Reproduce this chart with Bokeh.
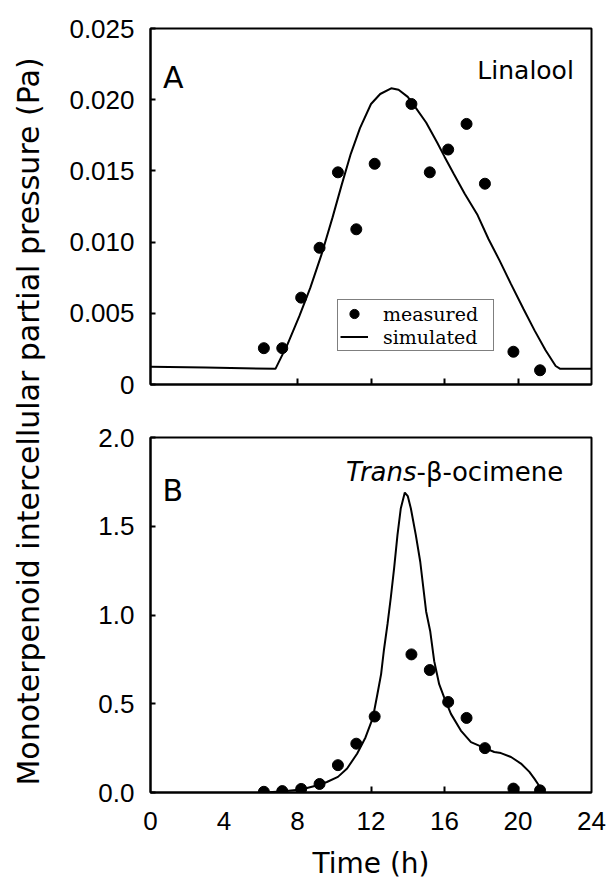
import math
from bokeh.plotting import figure
from bokeh.layouts import row, column
from bokeh.models import (Range1d, FixedTicker, NumeralTickFormatter, Label,
                          Legend, LegendItem)
from bokeh.embed import file_html
from bokeh.resources import INLINE

# ---------------- data ----------------
meas_time = [6.17, 7.17, 8.2, 9.2, 10.2, 11.2, 12.2, 14.2, 15.2, 16.2, 17.2, 18.2, 19.75, 21.2]
linalool_meas = [0.00255, 0.00255, 0.0061, 0.0096, 0.0149, 0.0109, 0.0155, 0.0197,
                 0.0149, 0.0165, 0.0183, 0.0141, 0.0023, 0.0010]
ocimene_meas = [0.004, 0.008, 0.020, 0.048, 0.154, 0.275, 0.428, 0.778,
                0.69, 0.51, 0.42, 0.25, 0.022, 0.012]

linalool_sim_t = [0, 3, 6.8, 7.45, 8.1, 8.7, 9.3, 9.9, 10.4, 10.9, 11.4, 12.0, 12.5,
                  13.1, 13.5, 14.0, 14.4, 15.0, 15.6, 16.0, 16.5, 17.1, 17.8, 18.4,
                  19.0, 19.6, 20.3, 20.9, 21.5, 22.05, 22.3, 24]
linalool_sim_v = [0.00125, 0.0012, 0.0011, 0.0028, 0.0048, 0.0068, 0.0091, 0.0117,
                  0.0140, 0.0162, 0.0180, 0.0197, 0.0204, 0.0208, 0.0207, 0.0202,
                  0.0195, 0.0184, 0.0170, 0.0160, 0.0148, 0.0134, 0.0119, 0.0102,
                  0.0087, 0.0071, 0.0053, 0.0038, 0.0024, 0.0013, 0.0011, 0.0011]

ocimene_sim_t = [6.18, 7.1, 8.2, 9.1, 9.6, 10.2, 10.7, 11.25, 11.7, 12.1, 12.35, 12.55,
                 12.7, 12.9, 13.08, 13.26, 13.44, 13.62, 13.84, 14.0, 14.17, 14.44,
                 14.68, 15.0, 15.22, 15.44, 15.71, 15.98, 16.35, 16.89, 17.44, 18.26,
                 18.71, 19.07, 19.62, 20.16, 20.62, 20.89, 21.13, 21.2]
ocimene_sim_v = [0.0, 0.005, 0.017, 0.041, 0.059, 0.088, 0.135, 0.22, 0.31, 0.42,
                 0.555, 0.667, 0.80, 0.95, 1.10, 1.265, 1.45, 1.60, 1.69, 1.67, 1.60,
                 1.45, 1.30, 1.02, 0.91, 0.74, 0.61, 0.536, 0.443, 0.349, 0.284,
                 0.247, 0.228, 0.222, 0.20, 0.163, 0.116, 0.078, 0.041, 0.01]

x_label_ticks = [0, 4, 8, 12, 16, 20, 24]
x_mark_ticks = [8, 12, 16, 20]
top_y_ticks = [0, 0.005, 0.010, 0.015, 0.020, 0.025]
bot_y_ticks = [0, 0.5, 1.0, 1.5, 2.0]

TICK_FONT = "Liberation Sans"
SANS = "DejaVu Sans"


def style_panel(p, yticks, yfmt, show_xlabels):
    p.xgrid.visible = False
    p.ygrid.visible = False
    p.outline_line_color = "black"
    p.outline_line_width = 2
    p.background_fill_color = "white"
    p.border_fill_color = "white"
    xa = p.xaxis[0]
    xa.axis_line_width = 2
    xa.axis_line_color = "black"
    xa.major_tick_in = 0
    xa.major_tick_out = 0
    xa.minor_tick_in = 6
    xa.minor_tick_out = 0
    xa.minor_tick_line_width = 2
    xa.minor_tick_line_color = "black"
    xa.major_label_text_font = TICK_FONT
    xa.major_label_text_color = "black"
    if show_xlabels:
        xa.ticker = FixedTicker(ticks=x_label_ticks, minor_ticks=x_mark_ticks)
        xa.major_label_text_font_size = "26px"
        xa.major_label_standoff = 19
        xa.axis_label = "Time (h)"
        xa.axis_label_text_font = SANS
        xa.axis_label_text_font_size = "28px"
        xa.axis_label_text_font_style = "normal"
        xa.axis_label_text_color = "black"
        xa.axis_label_standoff = 14
    else:
        xa.ticker = FixedTicker(ticks=[], minor_ticks=x_mark_ticks)
        xa.major_label_standoff = 0
    ya = p.yaxis[0]
    ya.ticker = FixedTicker(ticks=yticks)
    ya.formatter = NumeralTickFormatter(format=yfmt)
    ya.axis_line_width = 2
    ya.axis_line_color = "black"
    ya.major_tick_in = 5
    ya.major_tick_out = 0
    ya.major_tick_line_width = 2
    ya.major_tick_line_color = "black"
    ya.minor_tick_in = 0
    ya.minor_tick_out = 0
    ya.major_label_text_font = TICK_FONT
    ya.major_label_text_font_size = "26px"
    ya.major_label_text_color = "black"
    ya.major_label_standoff = 16


# ---------------- left label strip ----------------
lab = figure(width=50, height=894, x_range=Range1d(0, 50), y_range=Range1d(0, 894),
             output_backend="svg", toolbar_location=None, min_border=0)
lab.axis.visible = False
lab.grid.visible = False
lab.outline_line_color = None
lab.add_layout(Label(x=28, y=473, text="Monoterpenoid intercellular partial pressure (Pa)",
                     angle=math.pi / 2, text_align="center", text_baseline="middle",
                     text_font=SANS, text_font_size="30px", text_color="black"))

# ---------------- panel A ----------------
pa = figure(width=557, height=410, x_range=Range1d(0, 24), y_range=Range1d(0, 0.025),
            output_backend="svg", toolbar_location=None,
            min_border_left=100, min_border_right=16, min_border_top=28, min_border_bottom=26)
style_panel(pa, top_y_ticks, "0.000", False)
pa.yaxis[0].major_label_overrides = {0: "0"}
r_sim = pa.line(linalool_sim_t, linalool_sim_v, line_color="black", line_width=2)
r_meas = pa.scatter(meas_time, linalool_meas, marker="circle", size=11,
                    fill_color="black", line_color="black")
pa.add_layout(Label(x=0.68, y=0.02156, text="A", text_font=SANS, text_font_size="30px",
                    text_color="black", text_baseline="alphabetic", text_align="left"))
pa.add_layout(Label(x=23.04, y=0.02205, text="Linalool", text_font=SANS, text_color="black",
                    text_font_size="25px", text_baseline="alphabetic", text_align="right"))
leg = Legend(items=[LegendItem(label="measured", renderers=[r_meas]),
                    LegendItem(label="simulated", renderers=[r_sim])],
             location=(187, 33), orientation="vertical",
             label_text_font="DejaVu Serif", label_text_font_size="19px",
             label_text_color="black",
             glyph_width=28, glyph_height=23, label_height=22, label_width=108,
             label_standoff=15, padding=2, spacing=0, margin=0,
             border_line_color="black", border_line_width=1.5,
             background_fill_color="white", background_fill_alpha=1.0)
pa.add_layout(leg)

# ---------------- panel B ----------------
pb = figure(width=557, height=484, x_range=Range1d(0, 24), y_range=Range1d(0, 2.0),
            output_backend="svg", toolbar_location=None,
            min_border_left=100, min_border_right=16, min_border_top=27, min_border_bottom=102)
style_panel(pb, bot_y_ticks, "0.0", True)
pb.line(ocimene_sim_t, ocimene_sim_v, line_color="black", line_width=2)
pb.scatter(meas_time, ocimene_meas, marker="circle", size=11,
           fill_color="black", line_color="black")
pb.add_layout(Label(x=0.65, y=1.70, text="B", text_font=SANS, text_font_size="30px",
                    text_color="black", text_baseline="alphabetic", text_align="left"))
pb.add_layout(Label(x=14.48, y=1.803, text="Trans", text_font=SANS, text_font_size="26px",
                    text_color="black", text_font_style="italic",
                    text_baseline="alphabetic", text_align="right"))
pb.add_layout(Label(x=14.48, y=1.803, text="-\u03b2-ocimene", text_font=SANS,
                    text_color="black", text_font_size="26px",
                    text_baseline="alphabetic", text_align="left"))

layout = row(lab, column(pa, pb, spacing=0), spacing=0)

with open("out.html", "w") as f:
    f.write(file_html(layout, INLINE))
